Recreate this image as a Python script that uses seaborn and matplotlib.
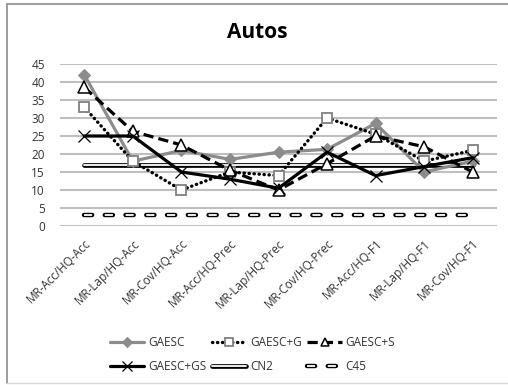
import matplotlib
matplotlib.use("Agg")
import matplotlib.pyplot as plt
import matplotlib.patheffects as pe
from matplotlib.lines import Line2D
import seaborn as sns

categories = ["MR-Acc/HQ-Acc", "MR-Lap/HQ-Acc", "MR-Cov/HQ-Acc",
              "MR-Acc/HQ-Prec", "MR-Lap/HQ-Prec", "MR-Cov/HQ-Prec",
              "MR-Acc/HQ-F1", "MR-Lap/HQ-F1", "MR-Cov/HQ-F1"]
gaesc = [42, 18, 21, 18.5, 20.5, 21.3, 28.5, 15, 18]
gaesc_g = [33, 18, 10, 15, 14, 30, 25.5, 18, 21]
gaesc_s = [38.5, 26.3, 22.5, 15.5, 10, 17.3, 25, 22, 15]
gaesc_gs = [25, 25, 15, 13, 10.5, 20.5, 14, 16.5, 19]
cn2 = [17] * 9
c45 = [3] * 9
y_ticks = [0, 5, 10, 15, 20, 25, 30, 35, 40, 45]

sns.set_theme(style="white")
plt.rcParams["font.family"] = ["Open Sans", "DejaVu Sans"]

fig = plt.figure(figsize=(5.08, 3.85), dpi=100)
ax = fig.add_axes([60 / 508, 1 - 226 / 385, 437 / 508, 162 / 385])

# horizontal gridlines
for v in y_ticks:
    ax.axhline(v, color="#bfbfbf", lw=1.5, zorder=0)

# C45: hollow dashes
sns.lineplot(x=categories, y=c45, ax=ax, color="white", lw=1.3, sort=False,
             label="C45", zorder=2)
ln_c45 = ax.lines[-1]
ln_c45.set_linestyle((0, (4.5, 7.0)))
ln_c45.set_dash_capstyle("butt")
ln_c45.set_path_effects([pe.Stroke(linewidth=3.2, foreground="black", capstyle="round"), pe.Normal()])

# CN2: double line
sns.lineplot(x=categories, y=cn2, ax=ax, color="white", lw=1.3, sort=False,
             label="CN2", zorder=2)
ln_cn2 = ax.lines[-1]
ln_cn2.set_path_effects([pe.Stroke(linewidth=3.4, foreground="black"), pe.Normal()])

# GAESC
sns.lineplot(x=categories, y=gaesc, ax=ax, color="#8c8c8c", lw=2.3, sort=False,
             marker="D", markersize=6, markerfacecolor="#8c8c8c",
             markeredgecolor="#8c8c8c", label="GAESC", zorder=3)

# GAESC+G
sns.lineplot(x=categories, y=gaesc_g, ax=ax, color="black", lw=2.4, sort=False,
             marker="s", markersize=6.5, markerfacecolor="white",
             markeredgecolor="#808080", markeredgewidth=1.3,
             label="GAESC+G", zorder=4)
ln_g = ax.lines[-1]
ln_g.set_linestyle((0, (0.1, 1.4)))
ln_g.set_dash_capstyle("round")

# GAESC+S
sns.lineplot(x=categories, y=gaesc_s, ax=ax, color="black", lw=2.3, sort=False,
             marker="^", markersize=8, markerfacecolor="white",
             markeredgecolor="black", markeredgewidth=1.1,
             label="GAESC+S", zorder=4)
ln_s = ax.lines[-1]
ln_s.set_linestyle((0, (3.2, 1.6)))

# GAESC+GS
sns.lineplot(x=categories, y=gaesc_gs, ax=ax, color="black", lw=2.3, sort=False,
             marker="x", markersize=9, markeredgewidth=0.9,
             markeredgecolor="black", label="GAESC+GS", zorder=4)

ax.set_xlim(-0.5, len(categories) - 0.5)
ax.set_ylim(0, 45)
ax.set_yticks(y_ticks)
ax.set_yticklabels([str(v) for v in y_ticks])
ax.set_xlabel("")
ax.set_ylabel("")
for s in ax.spines.values():
    s.set_visible(False)
ax.tick_params(axis="y", length=0, pad=11, labelsize=8.5, labelcolor="#333333")
ax.tick_params(axis="x", length=0, pad=8, labelsize=8.5, labelcolor="#333333")
for lbl in ax.get_xticklabels():
    lbl.set_rotation(45)
    lbl.set_ha("right")
    lbl.set_va("top")
    lbl.set_rotation_mode("anchor")

# legend, row-major order with three columns
handles, labels = ax.get_legend_handles_labels()
lookup = dict(zip(labels, handles))
order = ["GAESC", "GAESC+GS", "GAESC+G", "CN2", "GAESC+S", "C45"]
if ax.legend_:
    ax.legend_.remove()
fig.legend([lookup[k] for k in order], order, loc="center",
           bbox_to_anchor=(0.497, 0.079), ncol=3, frameon=False,
           fontsize=8.5, handlelength=2.9, handletextpad=0.3,
           columnspacing=0.5, labelspacing=1.0, labelcolor="#333333",
           markerscale=0.8)

fig.text(0.506, 1 - 32 / 385, "Autos", ha="center", va="center",
         fontsize=15, fontweight="bold", color="black")

# chart border
fig.add_artist(Line2D([6.5 / 508, 6.5 / 508], [2 / 385, 1 - 4 / 385],
                      transform=fig.transFigure, color="#8c8c8c", lw=1.2))
fig.add_artist(Line2D([6.5 / 508, 1], [1 - 4 / 385, 1 - 4 / 385],
                      transform=fig.transFigure, color="#8c8c8c", lw=1.2))
fig.add_artist(Line2D([6.5 / 508, 1], [2 / 385, 2 / 385],
                      transform=fig.transFigure, color="#d9d9d9", lw=1.0))

fig.savefig("out.png", dpi=100)
